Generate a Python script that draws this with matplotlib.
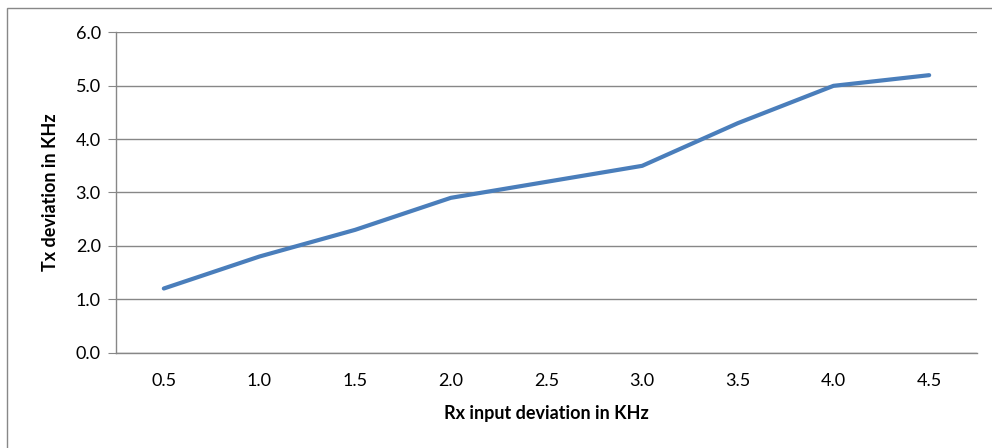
import matplotlib
matplotlib.use("Agg")
import matplotlib.pyplot as plt
from matplotlib.patches import Rectangle

categories = ["0.5", "1.0", "1.5", "2.0", "2.5", "3.0", "3.5", "4.0", "4.5"]
tx_dev = [1.2, 1.8, 2.3, 2.9, 3.2, 3.5, 4.3, 5.0, 5.2]
yticks = [0.0, 1.0, 2.0, 3.0, 4.0, 5.0, 6.0]

plt.rcParams['font.family'] = ['Lato', 'DejaVu Sans']

fig = plt.figure(figsize=(9.92, 4.48), dpi=100)
W, H = 992, 448
ax = fig.add_axes([116 / W, (H - 352.5) / H, (977 - 116) / W, (352.5 - 32.5) / H])

x = list(range(len(categories)))
ax.plot(x, tx_dev, color="#4A7EBB", lw=3.0, solid_capstyle="round", zorder=3)

ax.set_xlim(-0.5, len(categories) - 0.5)
ax.set_ylim(0, 6)
ax.set_yticks(yticks)
ax.set_yticklabels([f"{v:.1f}" for v in yticks], fontsize=13)
ax.set_xticks(x)
ax.set_xticklabels(categories, fontsize=13)
ax.grid(axis="y", color="#878787", lw=1.0)
ax.set_axisbelow(True)
for s in ["top", "right"]:
    ax.spines[s].set_visible(False)
for s in ["left", "bottom"]:
    ax.spines[s].set_color("#878787")
    ax.spines[s].set_linewidth(1.0)
ax.tick_params(axis="y", length=6, color="#878787", pad=5)
ax.tick_params(axis="x", length=0, pad=15)

ax.set_xlabel("Rx input deviation in KHz", fontsize=13, fontweight="bold", labelpad=11)
ax.set_ylabel("Tx deviation in KHz", fontsize=13, fontweight="bold", labelpad=12)

fig.patches.append(Rectangle((7 / W, -0.1), 1.2, (H - 8) / H + 0.1,
                             transform=fig.transFigure, fill=False,
                             edgecolor="#888888", lw=1.0))

fig.savefig("out.png", dpi=100)
